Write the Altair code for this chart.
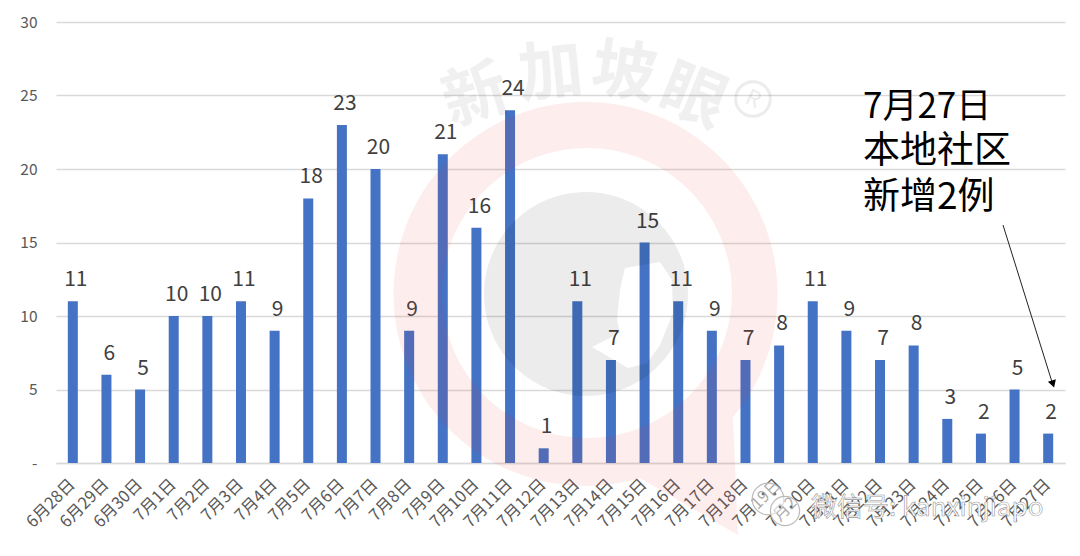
import altair as alt
import pandas as pd

dates = ["6月28日", "6月29日", "6月30日", "7月1日", "7月2日", "7月3日", "7月4日", "7月5日", "7月6日", "7月7日",
         "7月8日", "7月9日", "7月10日", "7月11日", "7月12日", "7月13日", "7月14日", "7月15日", "7月16日", "7月17日",
         "7月18日", "7月19日", "7月20日", "7月21日", "7月22日", "7月23日", "7月24日", "7月25日", "7月26日", "7月27日"]
cases = [11, 6, 5, 10, 10, 11, 9, 18, 23, 20, 9, 21, 16, 24, 1, 11, 7, 15, 11, 9, 7, 8, 11, 9, 7, 8, 3, 2, 5, 2]
note_lines = ["7月27日", "本地社区", "新增2例"]
logo_chars = ["新", "加", "坡", "眼"]
footer_text = "微信号: kanxinjiapo"

FONT = "Noto Sans CJK SC"
LEFT, TOP = 56, 22
W, H = 1009, 441

df = pd.DataFrame({"date": dates, "cases": cases})
one = pd.DataFrame({"a": [0]})


def place(chart, x, y):
    # overlay pieces are placed in page pixels, not on the data scales
    return chart.encode(x=alt.value(x - LEFT), y=alt.value(y - TOP))


x_enc = alt.X("date:N", sort=None, title=None, scale=alt.Scale(paddingInner=0.7, paddingOuter=0.35),
              axis=alt.Axis(labelAngle=315, labelFontSize=16.5, labelColor="#595959", labelFont=FONT,
                            labelPadding=13, labelOffset=-6, labelOverlap=False, ticks=False, domainColor="#d9d9d9",
                            domainWidth=1.5, grid=False))
y_enc = alt.Y("cases:Q", title=None, scale=alt.Scale(domain=[0, 30], nice=False),
              axis=alt.Axis(values=[0, 5, 10, 15, 20, 25, 30], labelExpr="datum.value == 0 ? '-' : datum.value",
                            labelFontSize=15.5, labelColor="#595959", labelFont=FONT, labelPadding=19,
                            ticks=False, domain=False, gridColor="#d9d9d9", gridWidth=1.3))

bars = alt.Chart(df).mark_bar(size=10, color="#4472c4").encode(x=x_enc, y=y_enc)
values = alt.Chart(df).mark_text(baseline="bottom", dx=3, dy=-11, fontSize=21, font=FONT, color="#404040").encode(
    x=alt.X("date:N", sort=None), y=alt.Y("cases:Q"), text="cases:Q")

# ring with speech-bubble tail and the grey disc with its hook cut out
ring_path = ("M .276 .964 L .786 1.26 L .76 .646 A 1 1 0 1 0 .276 .964 Z "
             "M .755 0 A .755 .755 0 1 1 -.755 0 A .755 .755 0 1 1 .755 0 Z")
disc_path = ("M 1 0 A 1 1 0 1 0 -1 0 A 1 1 0 1 0 1 0 Z "
             "M .382 -.255 L .725 -.314 L .843 -.137 L .853 .186 L .725 .5 L .598 .676 L .412 .725 "
             "L .059 .52 L .333 .382 L .304 .255 L .333 -.039 Z")
ring = place(alt.Chart(one).mark_point(shape=ring_path, filled=True, size=384 ** 2, color="#e53935",
                                       opacity=0.09, strokeWidth=0), 587, 293)
disc = place(alt.Chart(one).mark_point(shape=disc_path, filled=True, size=204 ** 2, color="#000000",
                                       opacity=0.075, strokeWidth=0), 586, 294)

logo = []
for ch, px, py, ang in zip(logo_chars, [476, 551, 624, 693], [97, 74, 74, 98], [342, 354, 8, 22]):
    logo.append(place(alt.Chart(one).mark_text(text=ch, font=FONT, fontSize=65, fontWeight="bold", angle=ang,
                                               color="#000000", opacity=0.055), px, py))
logo.append(place(alt.Chart(one).mark_point(shape="circle", size=1200, color="#000000", opacity=0.07,
                                            strokeWidth=3), 753, 99))
logo.append(place(alt.Chart(one).mark_text(text="R", font=FONT, fontSize=22, angle=25, color="#000000",
                                           opacity=0.07), 753, 99))

# note and arrow
note = []
for line, py, fs in zip(note_lines, [107, 152, 198], [35, 37, 37]):
    note.append(place(alt.Chart(one).mark_text(text=line, font=FONT, fontSize=fs, align="left", color="#000000"),
                      863, py))
arrow = alt.Chart(one).mark_rule(color="#222222", strokeWidth=1).encode(
    x=alt.value(1003 - LEFT), x2=alt.value(1052 - LEFT), y=alt.value(225 - TOP), y2=alt.value(382 - TOP))
head = place(alt.Chart(one).mark_point(shape="triangle-down", filled=True, size=70, color="#000000", angle=342,
                                       opacity=1), 1053, 384)

# wechat footer
bubbles = [place(alt.Chart(one).mark_point(shape="circle", filled=True, size=s, fill="#ffffff", fillOpacity=0.5,
                                           stroke="#bbbbbb", strokeWidth=1.2), px, py)
           for px, py, s in [(768, 499, 1000), (785, 511, 850)]]
eyes = [place(alt.Chart(one).mark_point(shape="circle", filled=True, size=8, color="#555555", opacity=0.8), px, py)
        for px, py in [(763, 494), (775, 494), (780, 507), (791, 507)]]
footer = place(alt.Chart(one).mark_text(text=footer_text, font=FONT, fontSize=26, align="left", color="#ffffff",
                                        stroke="#999999", strokeWidth=0.6), 811, 508)

chart = alt.layer(bars, values, ring, disc, *logo, *note, arrow, head, *bubbles, *eyes, footer).properties(
    width=W, height=H, autosize="none",
    padding={"left": LEFT - 8, "top": TOP - 8, "right": 7, "bottom": 85},
    background="#ffffff",
).configure_view(stroke=None)

chart.save("out.html", embed_options={"renderer": "svg", "actions": False})
